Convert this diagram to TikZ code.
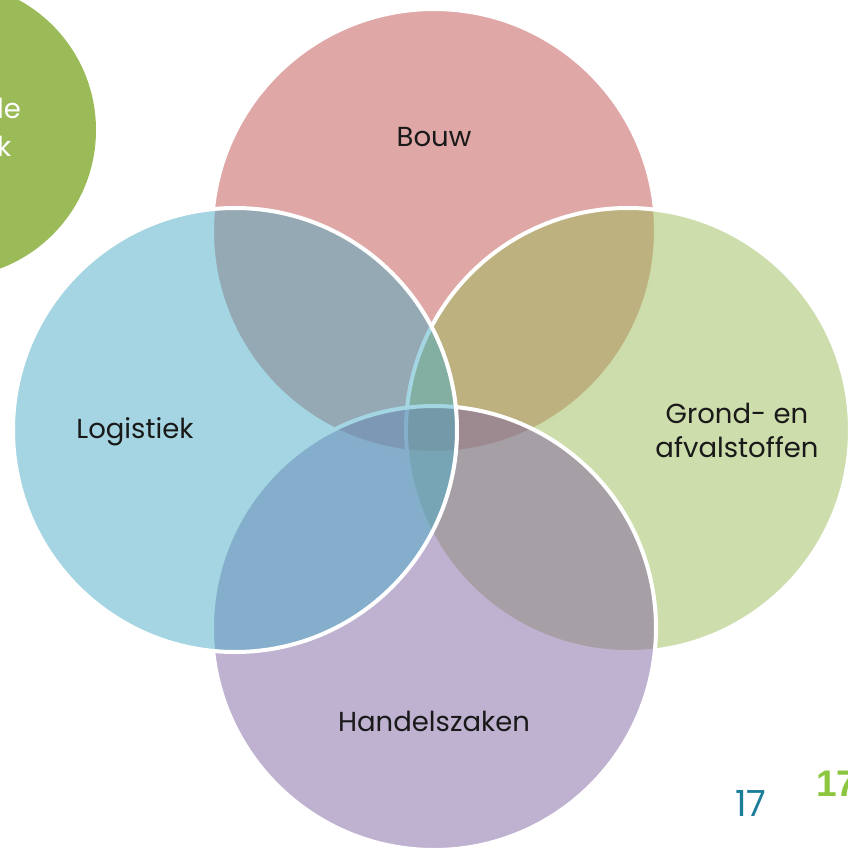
\documentclass[tikz,border=0pt]{standalone}
\usepackage{fontspec}
\setmainfont{Poppins}
\newfontfamily\numfont{Liberation Sans}
\usepackage{xcolor}
\definecolor{bouwred}{HTML}{C0504D}
\definecolor{grondgreen}{HTML}{9BBB59}
\definecolor{handelpurple}{HTML}{8064A2}
\definecolor{logiblue}{HTML}{4BACC6}
\definecolor{pageteal}{HTML}{1B7D9A}
\definecolor{pagegreen}{HTML}{8CC63F}

\begin{document}
\begin{tikzpicture}[x=1pt,y=-1pt]
\tikzstyle{every node}+=[inner sep=0pt]
\tikzstyle{sector}=[circle,minimum size=444pt,draw=white,line width=4pt,fill opacity=0.5,draw opacity=1]
\tikzstyle{label}=[text=black!90,font=\fontsize{27.5}{34}\selectfont,align=center]
\useasboundingbox (0,0) rectangle (848,849);
% green circle at the top left, cut off by the page
\fill [grondgreen] (-52,130) circle (148);
\node [text=white,font=\fontsize{27.5}{38}\selectfont,anchor=north west,align=left] (side) at (-3,98) {le\\k};
% the four overlapping sectors
\node [sector,fill=bouwred] (bouw) at (434,231) {};
\node [sector,fill=grondgreen] (grond) at (628,430) {};
\node [sector,fill=handelpurple] (handel) at (434,628) {};
\node [sector,fill=logiblue] (logistiek) at (235,430) {};
% labels
\node [label] (bouwtxt) at (434,137) {Bouw};
\node [label] (grondtxt) at (737,430) {Grond- en\\afvalstoffen};
\node [label] (handeltxt) at (434,721) {Handelszaken};
\node [label] (logitxt) at (135,432) {Logistiek};
% page numbers
\node [text=pageteal,font=\fontsize{36}{36}\selectfont] (page) at (751,803) {17};
\node [text=pagegreen,font=\numfont\bfseries\fontsize{37}{37}\selectfont,anchor=west] (pagebig) at (816,784) {17};
\end{tikzpicture}
\end{document}
